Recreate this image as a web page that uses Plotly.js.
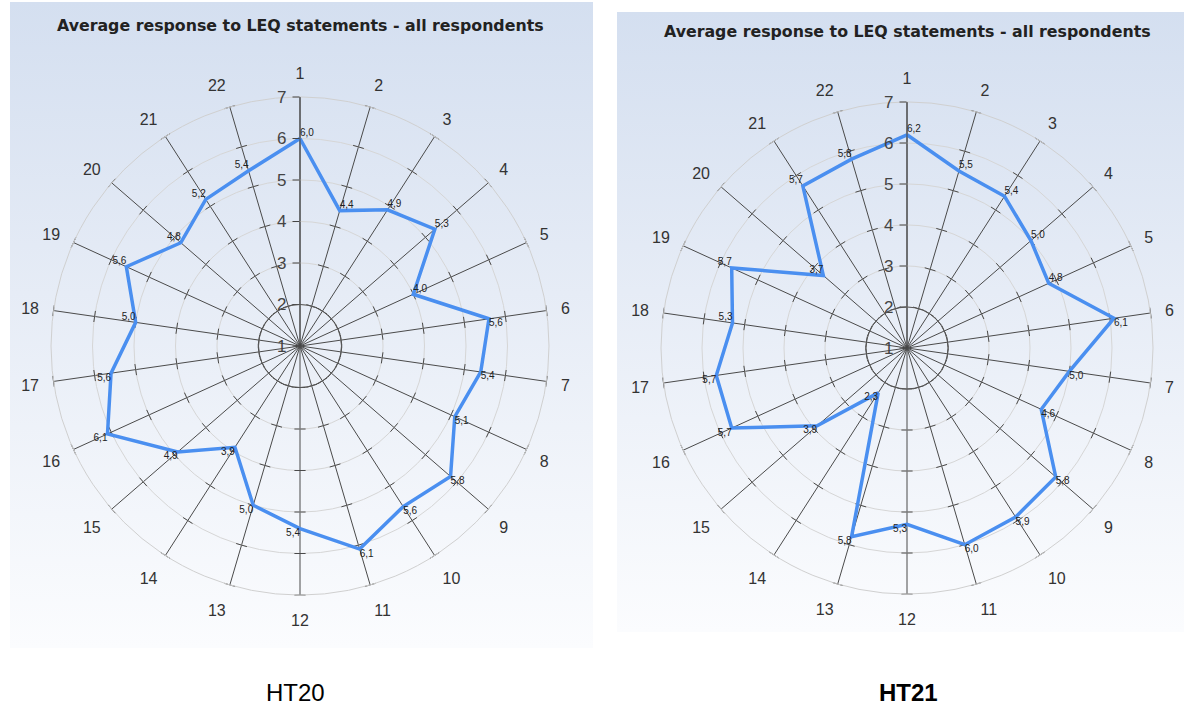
<!DOCTYPE html>
<html>
<head>
<meta charset="utf-8">
<script src="https://cdn.plot.ly/plotly-3.0.1.min.js"></script>
<style>
  html, body { margin: 0; padding: 0; background: #ffffff; }
  .panel { position: absolute; background: linear-gradient(to bottom, #d4dff0 0%, #e6ecf6 45%, #fbfcfe 100%); }
  #chart { position: absolute; left: 0; top: 0; width: 1184px; height: 706px; }
</style>
</head>
<body>
<div class="panel" style="left:10px; top:2px; width:583px; height:646px;"></div>
<div class="panel" style="left:617px; top:12px; width:568px; height:620px;"></div>
<div id="chart"></div>
<script>
// ---- data ----
const categories = ['1','2','3','4','5','6','7','8','9','10','11','12','13','14','15','16','17','18','19','20','21','22'];
const ht20Values = [6.0, 4.4, 4.9, 5.3, 4.0, 5.6, 5.4, 5.1, 5.8, 5.6, 6.1, 5.4, 5.0, 3.9, 4.9, 6.1, 5.6, 5.0, 5.6, 4.8, 5.2, 5.4];
const ht21Values = [6.2, 5.5, 5.4, 5.0, 4.8, 6.1, 5.0, 4.6, 5.8, 5.9, 6.0, 5.3, 5.8, 2.3, 3.9, 5.7, 5.7, 5.3, 5.7, 3.7, 5.7, 5.8];
const radialTicks = [1, 2, 3, 4, 5, 6, 7];
const chartTitle = 'Average response to LEQ statements - all respondents';
const captions = ['HT20', '<b>HT21</b>'];

// ---- helpers ----
const W = 1184, H = 706;
const n = categories.length;
function closed(arr) { return arr.concat([arr[0]]); }
function labelText(v) { return v.toFixed(1).replace('.', ','); }
function textPos(k) {
  const a = k * 360 / n;
  if (a < 80) return 'top right';
  if (a < 175) return 'bottom right';
  if (a < 265) return 'bottom left';
  return 'top left';
}
function domainFor(cx, cy, rad) {
  return { x: [(cx - rad) / W, (cx + rad) / W], y: [1 - (cy + rad) / H, 1 - (cy - rad) / H] };
}

// spoke tick marks (decoration along each spoke)
const tickTheta = [], tickR = [], tickAng = [];
for (let k = 1; k < n; k++) {
  for (let j = 1; j < radialTicks.length; j++) {
    tickTheta.push(categories[k]);
    tickR.push(radialTicks[j]);
    tickAng.push(k * 360 / n);
  }
}

const charts = [
  { values: ht20Values, cx: 300, cy: 346, rad: 249, sub: 'polar', ring: 'polar2' },
  { values: ht21Values, cx: 907, cy: 348, rad: 246, sub: 'polar3', ring: 'polar4' }
];

const data = [];
const layout = {
  width: W, height: H,
  margin: { l: 0, r: 0, t: 0, b: 0 },
  paper_bgcolor: 'rgba(0,0,0,0)',
  plot_bgcolor: 'rgba(0,0,0,0)',
  showlegend: false,
  font: { family: 'Liberation Sans, Arial, sans-serif', color: '#333' },
  annotations: []
};

charts.forEach((c, i) => {
  const dom = domainFor(c.cx, c.cy, c.rad);
  // ring overlay (dark circle at 2)
  layout[c.ring] = {
    domain: dom,
    bgcolor: 'rgba(0,0,0,0)',
    radialaxis: { range: [1, 7], tickvals: [2], showticklabels: false, ticks: '', showline: false, gridcolor: '#555', gridwidth: 1 },
    angularaxis: { type: 'category', categoryarray: categories, rotation: 90, direction: 'clockwise', showgrid: false, showline: false, showticklabels: false, ticks: '' }
  };
  layout[c.sub] = {
    domain: dom,
    bgcolor: 'rgba(0,0,0,0)',
    radialaxis: {
      range: [1, 7], tickvals: radialTicks, ticktext: radialTicks.map(String),
      angle: 90, side: 'counterclockwise', tickangle: 90,
      showline: true, linecolor: '#444', linewidth: 1,
      ticks: 'outside', ticklen: 7, tickcolor: '#444',
      gridcolor: '#d6d6d6', gridwidth: 1,
      tickfont: { size: 17, color: '#444', family: 'Liberation Sans, Arial, sans-serif' }
    },
    angularaxis: {
      type: 'category', categoryarray: categories, rotation: 90, direction: 'clockwise',
      showgrid: true, gridcolor: '#4a4a4a', gridwidth: 1,
      showline: true, linecolor: '#d0d0d0', linewidth: 1,
      ticks: 'outside', ticklen: 11, tickcolor: 'rgba(0,0,0,0)',
      tickfont: { size: 16, color: '#333', family: 'Liberation Sans, Arial, sans-serif' }
    }
  };
  data.push({
    type: 'scatterpolar', subplot: c.ring, r: [], theta: [], mode: 'lines', hoverinfo: 'skip'
  });
  data.push({
    type: 'scatterpolar', subplot: c.sub, r: tickR, theta: tickTheta, mode: 'markers', hoverinfo: 'skip',
    marker: { symbol: 'line-ew', size: 8, angle: tickAng, color: '#4a4a4a', line: { color: '#4a4a4a', width: 1 } }
  });
  data.push({
    type: 'scatterpolar', subplot: c.sub,
    r: closed(c.values), theta: closed(categories),
    mode: 'lines+text',
    text: closed(c.values.map(labelText)).map((t, k) => k < n ? t : ''),
    textposition: closed(categories.map((_, k) => textPos(k))),
    textfont: { size: 10, color: '#222', family: 'Liberation Sans, Arial, sans-serif' },
    line: { color: '#4a8ff0', width: 3.5 },
    hoverinfo: 'skip'
  });
  layout.annotations.push({
    text: chartTitle, xref: 'paper', yref: 'paper', x: c.cx / W, y: 1 - (i === 0 ? 25 : 31) / H,
    xanchor: 'center', yanchor: 'middle', showarrow: false,
    font: { family: 'DejaVu Sans, sans-serif', size: 15.8, color: '#222', weight: 'bold' }
  });
  layout.annotations.push({
    text: captions[i], xref: 'paper', yref: 'paper', x: (i === 0 ? 295 : 908) / W, y: 1 - 692 / H,
    xanchor: 'center', yanchor: 'middle', showarrow: false,
    font: { family: 'Liberation Sans, Arial, sans-serif', size: 24, color: '#000' }
  });
});

Plotly.newPlot('chart', data, layout, { displayModeBar: false, staticPlot: true });
</script>
</body>
</html>
